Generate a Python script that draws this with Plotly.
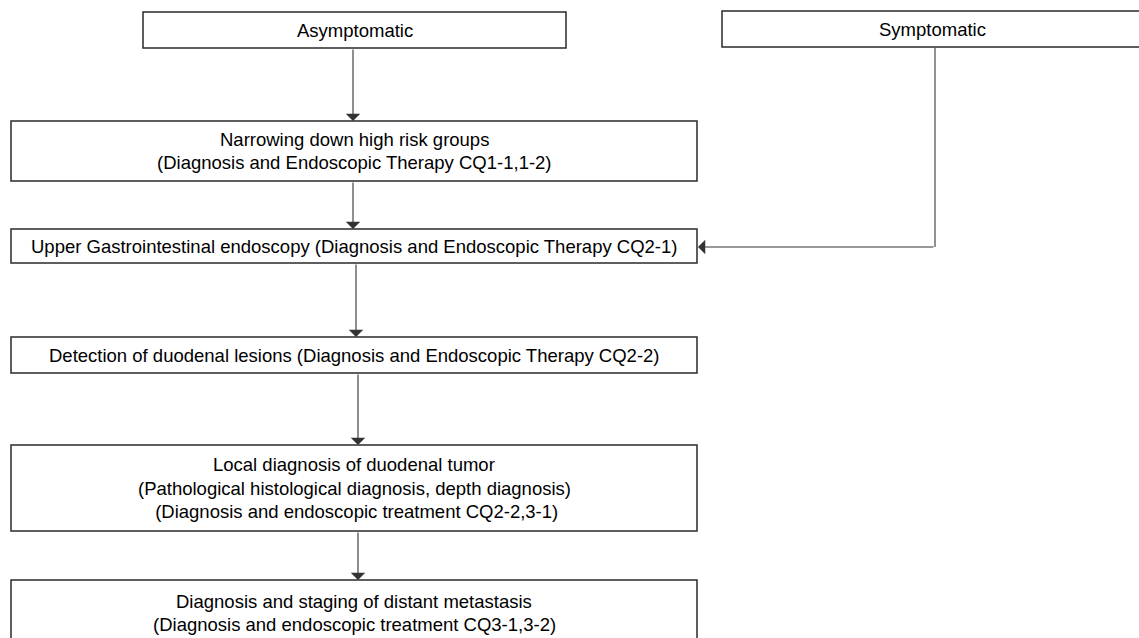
import plotly.graph_objects as go

# Flowchart content
box_labels = [
    ["Asymptomatic"],
    ["Symptomatic"],
    ["Narrowing down high risk groups", "(Diagnosis and Endoscopic Therapy CQ1-1,1-2)"],
    ["Upper Gastrointestinal endoscopy (Diagnosis and Endoscopic Therapy CQ2-1)"],
    ["Detection of duodenal lesions (Diagnosis and Endoscopic Therapy CQ2-2)"],
    ["Local diagnosis of duodenal tumor",
     "(Pathological histological diagnosis, depth diagnosis)",
     " (Diagnosis and endoscopic treatment CQ2-2,3-1)"],
    ["Diagnosis and staging of distant metastasis",
     "(Diagnosis and endoscopic treatment CQ3-1,3-2)"],
]
# Box geometry (pixel layout): x0, x1, y0, y1
box_x0 = [143, 722, 11, 11, 11, 11, 11]
box_x1 = [566, 1142, 697, 697, 697, 697, 697]
box_y0 = [12, 11, 121, 229, 337, 445, 580]
box_y1 = [48, 47, 181, 263, 373, 531, 660]
# Edges: (from box, to box, x of vertical arrow)
edges = [(0, 2, 353), (2, 3, 353), (3, 4, 356), (4, 5, 358), (5, 6, 358)]
# Symptomatic elbow connector
elbow_x = 935
elbow_y = 247

W, H = 1139, 638
FONT = "Liberation Sans, Arial, sans-serif"
FS = 18.5
LINE_H = 23.5

fig = go.Figure()
shapes = []
annotations = []

for i, lines in enumerate(box_labels):
    x0, x1, y0, y1 = box_x0[i], box_x1[i], box_y0[i], box_y1[i]
    shapes.append(dict(type="rect", xref="x", yref="y", x0=x0, x1=x1, y0=y0, y1=y1,
                       line=dict(color="#2a2a2a", width=1.5), fillcolor="white", layer="below"))
    n = len(lines)
    if i == 6:
        cy = 601 + (n - 1) * LINE_H / 2
    else:
        cy = (y0 + y1) / 2
    for k, t in enumerate(lines):
        yy = cy + (k - (n - 1) / 2) * LINE_H
        annotations.append(dict(x=(x0 + x1) / 2, y=yy, xref="x", yref="y", text=t,
                                showarrow=False, font=dict(family=FONT, size=FS, color="#000000"),
                                xanchor="center", yanchor="middle"))

for a, b, x in edges:
    annotations.append(dict(x=x, y=box_y0[b], ax=x, ay=box_y1[a], xref="x", yref="y",
                            axref="x", ayref="y", text="", showarrow=True, arrowhead=1,
                            arrowsize=2.2, arrowwidth=1.1, arrowcolor="#333333", standoff=0))

# elbow from Symptomatic
shapes.append(dict(type="line", xref="x", yref="y", x0=elbow_x, x1=elbow_x,
                   y0=box_y1[1], y1=elbow_y, line=dict(color="#555555", width=1.3)))
annotations.append(dict(x=box_x1[3], y=elbow_y, ax=elbow_x, ay=elbow_y, xref="x", yref="y",
                        axref="x", ayref="y", text="", showarrow=True, arrowhead=1,
                        arrowsize=2.2, arrowwidth=1.1, arrowcolor="#333333", standoff=1))

fig.update_layout(
    width=W, height=H, margin=dict(l=0, r=0, t=0, b=0),
    paper_bgcolor="white", plot_bgcolor="white",
    xaxis=dict(range=[0, W], visible=False, fixedrange=True),
    yaxis=dict(range=[H, 0], visible=False, fixedrange=True),
    shapes=shapes, annotations=annotations, showlegend=False,
)
fig.write_html("out.html", config={"displayModeBar": False},
               post_script="document.body.style.margin='0';document.body.style.overflow='hidden';")
